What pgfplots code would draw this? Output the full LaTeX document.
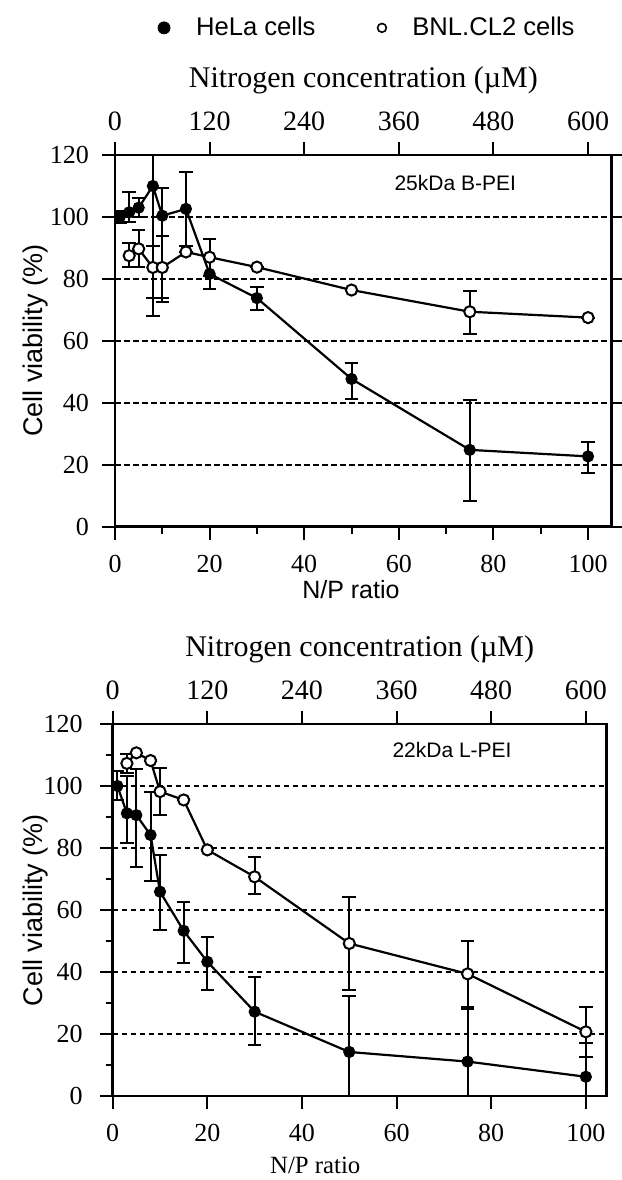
\documentclass[border=0pt]{standalone}
\usepackage{fontspec}
\setmainfont{Liberation Serif}
\newfontfamily\arial{Liberation Sans}
\usepackage{pgfplots}
\pgfplotsset{compat=1.18}
\usepackage{pgfplotstable}

\pgfplotstableread{
x y ep em
1 100 2 2
3 101.5 6.5 3
5 103 3 3
8 110 42 42
10 100.4 9 28
15 102.6 12 12
20 81.6 5 5
30 73.8 3.6 4
50 47.7 5.2 6.5
75 24.8 16 16.5
100 22.7 4.6 5.3
}\topHeLa
\pgfplotstableread{
x y ep em
3 87.5 4 3.8
5 89.7 6 6
8 83.7 7 10
10 83.7 10 10
15 88.7 0 0
20 87 6 6
30 83.8 0 0
50 76.4 0 0
75 69.4 6.7 7.3
100 67.5 0 0
}\topBNL
\pgfplotstableread{
x y ep em
1 100 5 4.5
3 91.2 12 9.5
5 90.6 15 16.6
8 84.2 14 15
10 65.9 11.8 12.4
15 53.3 9.4 10.3
20 43.3 7.9 9.1
30 27.2 11.1 10.7
50 14.2 18 18
75 11.1 17 17
100 6.2 11 11
}\botHeLa
\pgfplotstableread{
x y ep em
3 107.3 3 3
5 110.7 0 0
8 108.2 0 0
10 98.2 7.6 7.6
15 95.5 0 0
20 79.4 0 0
30 70.7 6.3 5.5
50 49.2 14.9 15
75 39.4 10.7 10.7
100 20.7 8.1 8.1
}\botBNL

\pgfplotsset{
  base/.style={
    scale only axis,
    tick align=outside,
    major tick length=6.5pt,
    minor tick length=3.5pt,
    every tick/.style={black, line width=1pt},
    axis line style={line width=1.4pt},
    /pgf/number format/assume math mode=true,
    tick label style={font=\fontsize{13}{15}\selectfont},
  },
  hela/.style={black, line width=1.1pt, mark=*, mark size=2.8pt,
    mark options={solid, fill=black, line width=0.5pt},
    error bars/.cd, y dir=both, y explicit,
    error bar style={line width=1pt, solid},
    error mark options={rotate=90, line width=1pt, mark size=3.4pt}, /pgfplots/.cd},
  bnl/.style={black, line width=1.1pt, mark=*, mark size=2.8pt,
    mark options={solid, fill=white, draw=black, line width=1pt},
    error bars/.cd, y dir=both, y explicit,
    error bar style={line width=1pt, solid},
    error mark options={rotate=90, line width=1pt, mark size=3.4pt}, /pgfplots/.cd},
  topconc/.style={base,
    axis x line*=top, axis y line=none, ymin=0, ymax=1,
    xtick={0,120,...,600},
    xticklabel style={font=\fontsize{14}{16}\selectfont, yshift=2pt},
    xlabel={Nitrogen concentration (µM)},
    xlabel style={at={(axis description cs:0.5,1.2016)}, anchor=center, font=\fontsize{15}{17}\selectfont},
  },
}

\begin{document}
\begin{tikzpicture}[x=1pt,y=1pt]

% ---------- top panel ----------
\begin{axis}[base,
  at={(57.5pt,326.65pt)}, anchor=south west,
  width=248.35pt, height=185.85pt,
  xmin=0, xmax=105, ymin=0, ymax=120,
  xtick={0,20,...,100}, minor xtick={10,30,...,90},
  ytick={0,20,...,120},
  xtick pos=lower, ytick pos=both, yticklabel pos=left,
  xticklabel style={yshift=-4pt},
  yticklabel style={xshift=-3pt},
  ymajorgrids=true,
  grid style={black, line width=1.1pt, dash pattern=on 2.75pt off 1.75pt},
  xlabel={\arial N/P ratio},
  xlabel style={at={(axis description cs:0.475,-0.170)}, anchor=center, font=\fontsize{12.5}{15}\selectfont},
  ylabel={\arial Cell viability (\%)},
  ylabel style={at={(axis description cs:-0.161,0.5)}, anchor=center, font=\fontsize{13.5}{15}\selectfont},
  legend columns=2,
  legend style={draw=none, fill=none, at={(axis description cs:0.51,1.342)}, anchor=center,
    font=\arial\fontsize{12.8}{14}\selectfont,
    /tikz/column 1/.style={column sep=11pt},
    /tikz/column 2/.style={column sep=29pt},
    /tikz/column 3/.style={column sep=11pt}},
  legend image code/.code={\draw[#1] plot coordinates {(0pt,0pt)};},
]
\addlegendimage{only marks, mark=*, mark size=3pt, black}
\addlegendentry{HeLa cells}
\addlegendimage{only marks, mark=o, mark size=2.2pt, black, line width=0.8pt}
\addlegendentry{BNL.CL2 cells}
\addplot[forget plot, hela] table[x=x, y=y, y error plus=ep, y error minus=em] {\topHeLa};
\addplot[forget plot, bnl] table[x=x, y=y, y error plus=ep, y error minus=em] {\topBNL};
\node[font=\arial\fontsize{10.5}{12}\selectfont] at (rel axis cs:0.685,0.925) {25kDa B-PEI};
\end{axis}
\begin{axis}[topconc,
  at={(57.5pt,326.65pt)}, anchor=south west,
  width=248.35pt, height=185.85pt,
  xmin=0, xmax=630,
]
\end{axis}

% ---------- bottom panel ----------
\begin{axis}[base,
  at={(56.35pt,42pt)}, anchor=south west,
  width=247pt, height=186pt,
  xmin=0, xmax=104.4, ymin=0, ymax=120,
  xtick={0,20,...,100},
  ytick={0,20,...,120}, minor ytick={10,30,...,110},
  xtick pos=lower, ytick pos=lower,
  xticklabel style={yshift=-4pt},
  yticklabel style={xshift=-5pt},
  ymajorgrids=true,
  grid style={black, line width=1.1pt, dash pattern=on 2.75pt off 1.75pt},
  xlabel={N/P ratio},
  xlabel style={at={(axis description cs:0.41,-0.1855)}, anchor=center, font=\fontsize{12.4}{14}\selectfont},
  ylabel={\arial Cell viability (\%)},
  ylabel style={at={(axis description cs:-0.157,0.5)}, anchor=center, font=\fontsize{13.5}{15}\selectfont},
]
\addplot[hela] table[x=x, y=y, y error plus=ep, y error minus=em] {\botHeLa};
\addplot[bnl] table[x=x, y=y, y error plus=ep, y error minus=em] {\botBNL};
\node[font=\arial\fontsize{10.5}{12}\selectfont] at (rel axis cs:0.687,0.930) {22kDa L-PEI};
\end{axis}
\begin{axis}[topconc,
  at={(56.35pt,42pt)}, anchor=south west,
  width=247pt, height=186pt,
  xmin=0, xmax=626.4,
]
\end{axis}
\pgfresetboundingbox
\path[use as bounding box] (0pt,0pt) rectangle (311pt,590pt);
\end{tikzpicture}
\end{document}
